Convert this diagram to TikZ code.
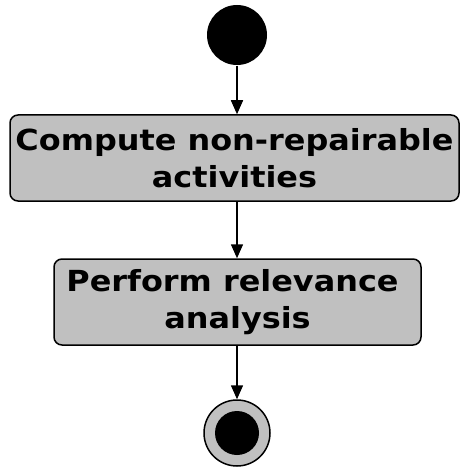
\documentclass[tikz,border=0pt]{standalone}
\usepackage{fontspec}
\setmainfont{DejaVu Sans}
\newfontfamily\actfont[FakeStretch=1.1]{DejaVu Sans Bold}
\usetikzlibrary{positioning,arrows.meta}
\definecolor{actgray}{RGB}{192,192,192}
\begin{document}
\begin{tikzpicture}[x=1pt,y=-1pt,line join=round,>={Triangle[length=14pt,width=12pt]},line width=1.5pt]
	\tikzset{activity/.style={draw,fill=actgray,rounded corners=8pt,align=center,
			minimum height=86pt,inner sep=0pt,font=\actfont\fontsize{29}{37}\selectfont}}
	\useasboundingbox (0,0) rectangle (460,468);
	% start and end states
	\node[fill,circle,minimum size=60pt,inner sep=0pt] (start) at (237,35) {};
	\node[draw,fill=actgray,circle,minimum size=66pt,inner sep=0pt] (stop) at (237,433) {};
	\fill (stop) circle (22pt);
	% activities
	\node[activity,minimum width=449pt] (nonrep) at (234.5,158) {Compute non-repairable\\activities};
	\node[activity,minimum width=367pt] (relevance) at (237.5,302) {Perform relevance\hspace*{10pt}\\analysis};
	\draw[->] (start) -- (start |- nonrep.north);
	\draw[->] (start |- nonrep.south) -- (start |- relevance.north);
	\draw[->] (start |- relevance.south) -- (stop);
\end{tikzpicture}
\end{document}
